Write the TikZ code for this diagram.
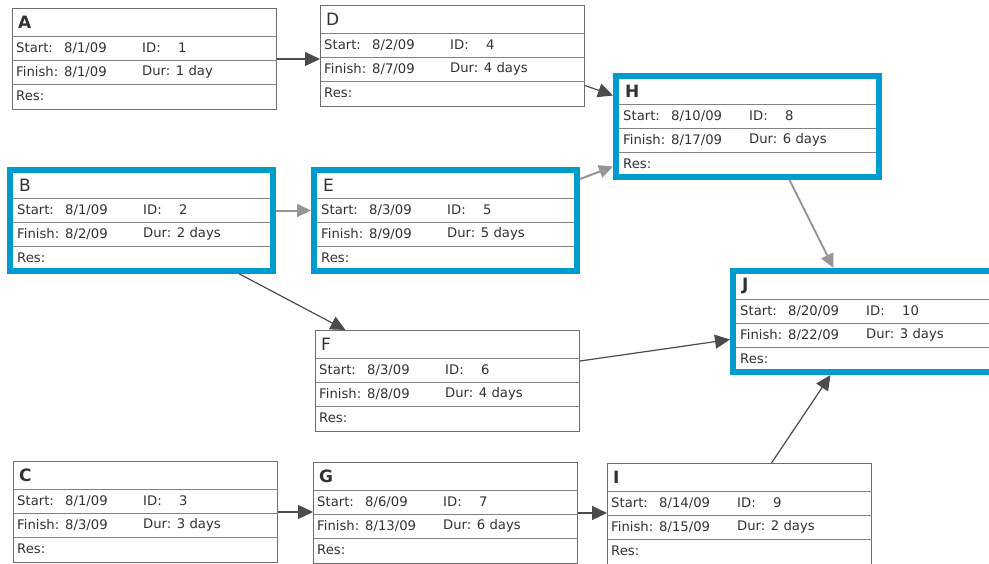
\documentclass[tikz,border=0pt]{standalone}
\usepackage{fontspec}
\setmainfont{DejaVu Sans}
\usetikzlibrary{arrows.meta,calc}
\definecolor{critblue}{RGB}{0,155,205}
\definecolor{boxgray}{RGB}{110,110,110}
\definecolor{linegray}{RGB}{130,130,130}
\definecolor{txt}{RGB}{50,50,50}
\definecolor{darkarr}{RGB}{75,75,75}
\definecolor{lightarr}{RGB}{150,150,150}
\tikzset{
  normalbox/.style={draw=boxgray, line width=1pt, inner sep=0pt, anchor=north west,
    minimum width=264pt, minimum height=101pt},
  critbox/.style={draw=critblue, line width=6pt, inner sep=0pt, anchor=north west,
    minimum width=263pt, minimum height=101pt},
  rowline/.style={draw=linegray, line width=1pt},
  lbl/.style={anchor=west, inner sep=0pt, font=\fontsize{13.2}{15}\selectfont, text=txt},
  ttl/.style={anchor=west, inner sep=0pt, font=\fontsize{17}{19}\selectfont, text=txt},
  ttlb/.style={anchor=west, inner sep=0pt, font=\fontsize{17}{19}\selectfont\bfseries, text=txt},
  darrow/.style={draw=darkarr, line width=1.2pt, -{Triangle[length=15pt,width=14pt]}},
  larrow/.style={draw=lightarr, line width=2pt, -{Triangle[length=14pt,width=13pt]}},
}
% body of a task box: #1 start, #2 id, #3 finish, #4 dur
\newcommand\taskbody[4]{%
  \draw[rowline] ($(\tn.north west)+(\ins,\ra)$) -- ($(\tn.north east)+(-\ins,\ra)$);
  \draw[rowline] ($(\tn.north west)+(\ins,\rb)$) -- ($(\tn.north east)+(-\ins,\rb)$);
  \draw[rowline] ($(\tn.north west)+(\ins,\rc)$) -- ($(\tn.north east)+(-\ins,\rc)$);
  \node[\ttlstyle] (\tn-t) at ($(\tn.north west)+({\lm+2},{(\ins+\ra)/2})$) {\ttltext};
  \node[lbl] (\tn-s) at ($(\tn.north west)+(\lm,{(\ra+\rb)/2})$) {Start:};
  \node[lbl] (\tn-sv) at ($(\tn.north west)+({\lm+48},{(\ra+\rb)/2})$) {#1};
  \node[lbl] (\tn-i) at ($(\tn.north west)+({\lm+126},{(\ra+\rb)/2})$) {ID:};
  \node[lbl] (\tn-iv) at ($(\tn.north west)+({\lm+162},{(\ra+\rb)/2})$) {#2};
  \node[lbl] (\tn-f) at ($(\tn.north west)+(\lm,{(\rb+\rc)/2})$) {Finish:};
  \node[lbl] (\tn-fv) at ($(\tn.north west)+({\lm+48},{(\rb+\rc)/2})$) {#3};
  \node[lbl] (\tn-d) at ($(\tn.north west)+({\lm+126},{(\rb+\rc)/2})$) {Dur: #4};
  \node[lbl] (\tn-r) at ($(\tn.north west)+(\lm,{\rc+12})$) {Res:};
}
% normal task: #1 name, #2 x, #3 y, #4 title style, #5 title, #6 {start}{id}{finish}{dur}
\newcommand\ntask[6]{%
  \node[normalbox] (#1) at (#2,#3) {};
  \def\tn{#1}\def\lm{4}\def\ra{28}\def\rb{52}\def\rc{76}\def\ins{0.5}%
  \def\ttlstyle{#4}\def\ttltext{#5}%
  \taskbody#6}
\newcommand\ctask[6]{%
  \node[critbox] (#1) at (#2,#3) {};
  \def\tn{#1}\def\lm{10}\def\ra{31}\def\rb{55}\def\rc{79}\def\ins{6}%
  \def\ttlstyle{#4}\def\ttltext{#5}%
  \taskbody#6}

\begin{document}
\begin{tikzpicture}[x=1pt,y=-1pt]
\useasboundingbox (0,0) rectangle (989,563);
\clip (0,0) rectangle (989,563);
\fill[white] (0,0) rectangle (989,563);

\ntask{A}{12}{8}{ttlb}{A}{{8/1/09}{1}{8/1/09}{1 day}}
\ntask{D}{320}{5}{ttl}{D}{{8/2/09}{4}{8/7/09}{4 days}}
\ctask{H}{613}{73}{ttlb}{H}{{8/10/09}{8}{8/17/09}{6 days}}
\ctask{B}{7}{167}{ttl}{B}{{8/1/09}{2}{8/2/09}{2 days}}
\ctask{E}{311}{167}{ttl}{E}{{8/3/09}{5}{8/9/09}{5 days}}
\ctask{J}{730}{268}{ttlb}{J}{{8/20/09}{10}{8/22/09}{3 days}}
\ntask{F}{315}{330}{ttl}{F}{{8/3/09}{6}{8/8/09}{4 days}}
\ntask{C}{13}{461}{ttlb}{C}{{8/1/09}{3}{8/3/09}{3 days}}
\ntask{G}{313}{462}{ttlb}{G}{{8/6/09}{7}{8/13/09}{6 days}}
\ntask{I}{607}{463}{ttlb}{I}{{8/14/09}{9}{8/15/09}{2 days}}

% connectors
\draw[darrow] (A.east) -- (A.east -| D.west);
\draw[darrow] ([yshift=-29.5pt]D.east) -- ([yshift=31pt]H.west);
\coordinate (be) at ([yshift=10pt]B.east);
\draw[larrow] (be) -- (be -| E.west);
\draw[larrow] ([yshift=-12pt]E.north east) -- ([yshift=-40pt]H.west);
\draw[larrow] ([xshift=42pt]H.south) -- ([xshift=-31pt]J.north);
\draw[darrow] ([xshift=98pt]B.south) -- ([xshift=-102pt]F.north);
\draw[darrow] ([yshift=20pt]F.east) -- ([yshift=-18pt]J.west);
\draw[darrow] (C.east) -- (C.east -| G.west);
\draw[darrow] (G.east) -- (G.east -| I.west);
\draw[darrow] ([xshift=32pt]I.north) -- ([xshift=-34pt]J.south);
\end{tikzpicture}
\end{document}
